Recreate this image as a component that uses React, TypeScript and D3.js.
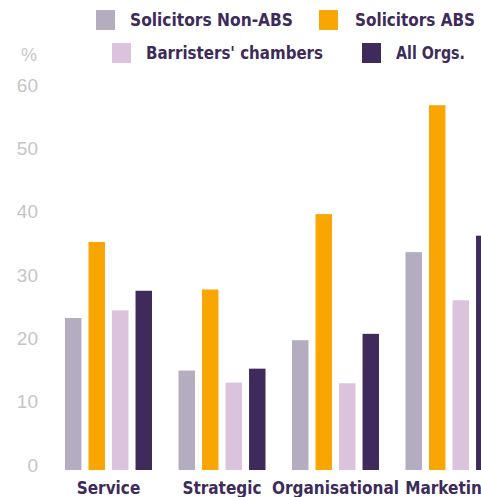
import React from "react";
import * as d3 from "d3";

const categories = ["Service", "Strategic", "Organisational", "Marketing"];
const seriesNames = ["Solicitors Non-ABS", "Solicitors ABS", "Barristers' chambers", "All Orgs."];
const nonAbs = [24, 15.7, 20.5, 34.4];
const abs = [36, 28.5, 40.4, 57.6];
const barristers = [25.2, 13.8, 13.7, 26.8];
const allOrgs = [28.3, 16, 21.5, 37];
const yTicks = [0, 10, 20, 30, 40, 50, 60];
const colors = ["#b3adbf", "#f9a602", "#dcc3dd", "#3e2b5c"];

const W = 481;
const H = 497;

export default function App() {
  const series = [nonAbs, abs, barristers, allOrgs];
  const y = d3.scaleLinear().domain([0, 60]).range([470, 90]);
  const step = 113.5;
  const x0 = d3
    .scaleBand<string>()
    .domain(categories)
    .range([51.75, 51.75 + 4 * step])
    .paddingInner(0.2335)
    .paddingOuter(0.11675);
  const x1 = d3
    .scaleBand<number>()
    .domain([0, 1, 2, 3])
    .range([0, x0.bandwidth()])
    .paddingInner(0.3)
    .paddingOuter(0);

  const font = "'DejaVu Sans Condensed', 'Liberation Sans Narrow', 'DejaVu Sans', sans-serif";
  const textColor = "#3d2b5a";

  const legend = [
    { i: 0, sx: 96, sy: 10, tx: 130, ty: 20, tw: 163 },
    { i: 1, sx: 319, sy: 10, tx: 355, ty: 20, tw: 120 },
    { i: 2, sx: 112, sy: 43, tx: 146, ty: 53, tw: 177 },
    { i: 3, sx: 362, sy: 43, tx: 396, ty: 53, tw: 69 },
  ];

  return (
    <svg
      width={W}
      height={H}
      style={{ position: "absolute", left: 0, top: 0, background: "#fff" }}
    >
      <rect x={0} y={0} width={W} height={H} fill="#fff" />
      {legend.map((l) => (
        <g key={l.i}>
          <rect x={l.sx} y={l.sy} width={19} height={20} fill={colors[l.i]} />
          <text
            x={l.tx}
            y={l.ty}
            dy="0.35em"
            fontFamily={font}
            fontWeight="bold"
            fontSize={18}
            fill={textColor}
            textLength={l.tw}
            lengthAdjust="spacingAndGlyphs"
          >
            {seriesNames[l.i]}
          </text>
        </g>
      ))}
      <text x={29} y={55} dy="0.35em" textAnchor="middle" fontFamily="'Liberation Sans', Arial, sans-serif" fontSize={18} fill="#c8c8c8">
        %
      </text>
      {yTicks.map((t) => (
        <text
          key={t}
          x={38}
          y={y(t) - 5}
          dy="0.35em"
          textAnchor="end"
          fontFamily="'Liberation Sans', Arial, sans-serif"
          fontSize={19}
          fill="#c5c5c5"
        >
          {t}
        </text>
      ))}
      {categories.map((c, ci) => (
        <g key={c} transform={`translate(${x0(c)},0)`}>
          {series.map((s, si) => (
            <rect
              key={si}
              x={x1(si)}
              y={y(s[ci])}
              width={x1.bandwidth()}
              height={y(0) - y(s[ci])}
              fill={colors[si]}
            />
          ))}
        </g>
      ))}
      {categories.map((c) => (
        <text
          key={c}
          x={(x0(c) as number) + x0.bandwidth() / 2}
          y={488}
          dy="0.35em"
          textAnchor="middle"
          fontFamily={font}
          fontWeight="bold"
          fontSize={17}
          fill={textColor}
        >
          {c}
        </text>
      ))}
    </svg>
  );
}
